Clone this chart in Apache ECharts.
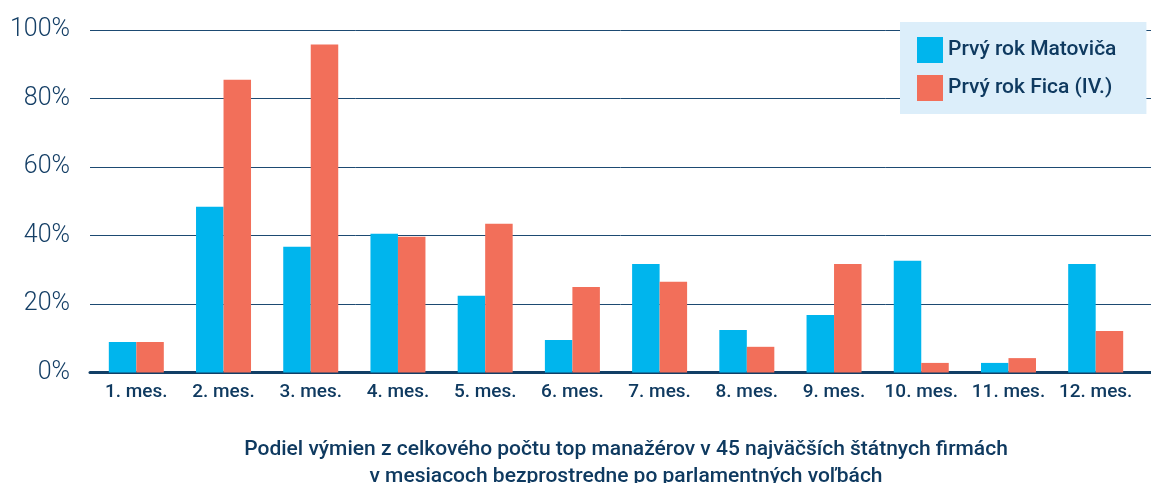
<!DOCTYPE html>
<html>
<head>
<meta charset="utf-8">
<script src="https://cdn.jsdelivr.net/npm/echarts@6/dist/echarts.min.js"></script>
<style>
html,body{margin:0;padding:0;background:#fff;}
#c{width:1151px;height:483px;}
</style>
</head>
<body>
<div id="c"></div>
<script>
const categories = ['1. mes.','2. mes.','3. mes.','4. mes.','5. mes.','6. mes.','7. mes.','8. mes.','9. mes.','10. mes.','11. mes.','12. mes.'];
const seriesNames = ['Prvý rok Matoviča','Prvý rok Fica (IV.)'];
const matovic = [8.9, 48.4, 36.7, 40.5, 22.4, 9.5, 31.7, 12.4, 16.8, 32.6, 2.8, 31.7];
const fico = [8.9, 85.5, 95.8, 39.6, 43.4, 25.0, 26.5, 7.5, 31.7, 2.8, 4.2, 12.1];
const yTicks = [0, 20, 40, 60, 80, 100];
const titleText = 'Podiel výmien z celkového počtu top manažérov v 45 najväčších štátnych firmách\nv mesiacoch bezprostredne po parlamentných voľbách';

const navy = '#0f3a60';
const font = 'Roboto';
const chart = echarts.init(document.getElementById('c'), null, {renderer:'canvas'});
chart.setOption({
  animation:false,
  backgroundColor:'#ffffff',
  title:{
    text:titleText,
    left:621, top:431,
    textAlign:'center',
    textStyle:{fontFamily:font, fontSize:21, fontWeight:500, color:navy, lineHeight:27}
  },
  legend:{
    data:seriesNames,
    orient:'vertical',
    left:900, top:22,
    backgroundColor:'#dceefa',
    padding:[15,30,13,17],
    itemWidth:26, itemHeight:26, itemGap:12, itemTextGap:25,
    icon:'rect',
    textStyle:{fontFamily:font, fontSize:21, fontWeight:500, color:navy}
  },
  grid:[
    {left:90, right:0, top:30, bottom:110.5},
    {left:92.7, right:11.7, top:30, bottom:110.5}
  ],
  xAxis:[
    {type:'value', gridIndex:0, min:0, max:1, show:true,
     axisLine:{show:true, onZero:false, lineStyle:{color:'#123f66', width:3}},
     axisTick:{show:false}, axisLabel:{show:false}, splitLine:{show:false}},
    {type:'category', gridIndex:1, data:categories,
     axisLine:{show:false}, axisTick:{show:false},
     axisLabel:{interval:0, margin:10, fontFamily:font, fontSize:19, fontWeight:500, color:navy}}
  ],
  yAxis:[
    {type:'value', gridIndex:0, min:0, max:100, interval:20,
     axisLine:{show:false}, axisTick:{show:false},
     splitLine:{show:true, lineStyle:{color:'#1d4a72', width:1}},
     axisLabel:{margin:20, fontFamily:font, fontSize:25, fontWeight:300, color:'#153f66',
       formatter:function(v){return yTicks.indexOf(v) >= 0 ? v + '%' : '';}}},
    {type:'value', gridIndex:1, min:0, max:100, show:false}
  ],
  series:[
    {name:seriesNames[0], type:'bar', xAxisIndex:1, yAxisIndex:1, data:matovic,
     barWidth:27.5, barGap:'0%', itemStyle:{color:'#00b5ed'}},
    {name:seriesNames[1], type:'bar', xAxisIndex:1, yAxisIndex:1, data:fico,
     barWidth:27.5, barGap:'0%', itemStyle:{color:'#f26f5a'}}
  ]
});
</script>
</body>
</html>
